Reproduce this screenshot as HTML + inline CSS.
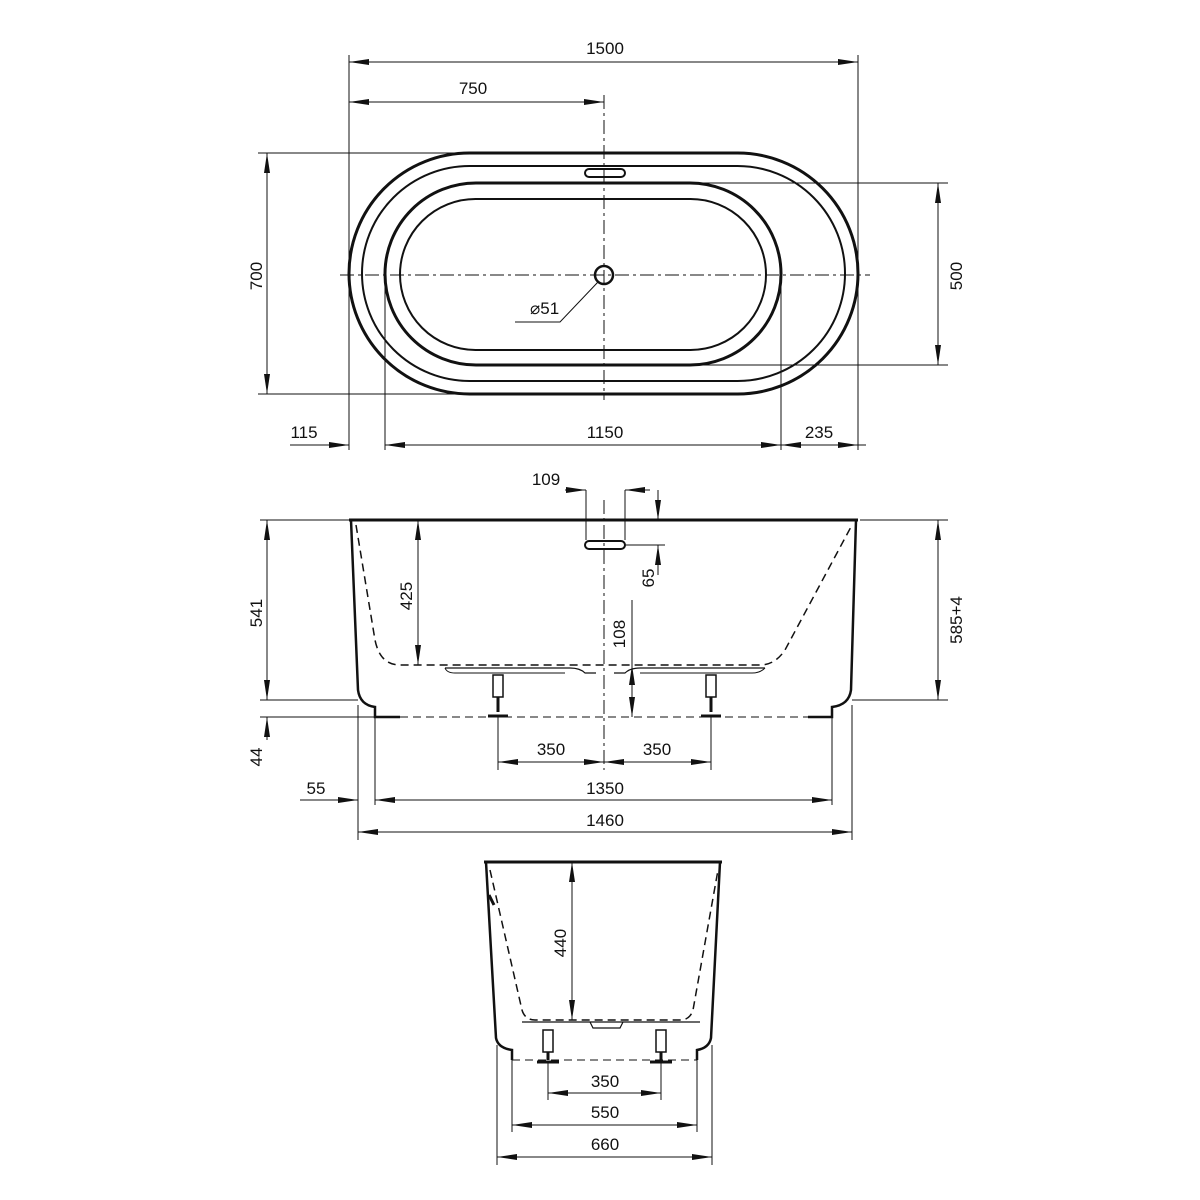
<!DOCTYPE html>
<html><head><meta charset="utf-8"><style>
html,body{margin:0;padding:0;background:#fff;}
svg{display:block;}
text{font-family:"Liberation Sans",sans-serif;font-size:17px;fill:#111;}
</style></head><body>
<svg width="1200" height="1200" viewBox="0 0 1200 1200" xmlns="http://www.w3.org/2000/svg">
<defs>
<marker id="a" viewBox="0 0 20 6" refX="20" refY="3" markerWidth="20" markerHeight="6" markerUnits="userSpaceOnUse" orient="auto-start-reverse"><path d="M0,0 L20,3 L0,6 z" fill="#111"/></marker>
</defs>
<g stroke="#111" fill="none" stroke-width="1">
<!-- TOP VIEW -->
<rect x="349" y="153" width="509" height="241" rx="120.5" stroke-width="3"/>
<rect x="362" y="166" width="483" height="215" rx="107.5" stroke-width="2"/>
<rect x="385" y="183" width="396" height="182" rx="91" stroke-width="3"/>
<rect x="400" y="199" width="366" height="151" rx="75.5" stroke-width="2"/>
<circle cx="604" cy="275" r="9" stroke-width="2.5"/>
<rect x="585" y="169" width="40" height="8" rx="4" stroke-width="2"/>
<line x1="340" y1="275" x2="870" y2="275" stroke-dasharray="14,4,3,4"/>
<line x1="604" y1="95" x2="604" y2="400" stroke-dasharray="14,4,3,4"/>
<path d="M598 282 L560 322 L515 322"/>
<!-- ext lines -->
<line x1="349" y1="55" x2="349" y2="450"/>
<line x1="858" y1="55" x2="858" y2="450"/>
<line x1="385" y1="275" x2="385" y2="450"/>
<line x1="781" y1="275" x2="781" y2="450"/>
<line x1="258" y1="153" x2="470" y2="153"/>
<line x1="258" y1="394" x2="470" y2="394"/>
<line x1="700" y1="183" x2="948" y2="183"/>
<line x1="700" y1="365" x2="948" y2="365"/>
<!-- dims -->
<line x1="349" y1="62" x2="858" y2="62" marker-start="url(#a)" marker-end="url(#a)"/>
<line x1="349" y1="102" x2="604" y2="102" marker-start="url(#a)" marker-end="url(#a)"/>
<line x1="267" y1="153" x2="267" y2="394" marker-start="url(#a)" marker-end="url(#a)"/>
<line x1="938" y1="183" x2="938" y2="365" marker-start="url(#a)" marker-end="url(#a)"/>
<line x1="290" y1="445" x2="349" y2="445" marker-end="url(#a)"/>
<line x1="385" y1="445" x2="781" y2="445" marker-start="url(#a)" marker-end="url(#a)"/>
<line x1="781" y1="445" x2="858" y2="445" marker-start="url(#a)" marker-end="url(#a)"/>
<line x1="858" y1="445" x2="866" y2="445"/>

<!-- SIDE VIEW -->
<path d="M349 520 L858 520" stroke-width="3"/>
<path d="M351 520 L358 690 Q360 705 375 707 L375 717 L400 717" stroke-width="2.5"/>
<path d="M856 520 L851 690 Q849 705 832 707 L832 717 L808 717" stroke-width="2.5"/>
<line x1="400" y1="717" x2="808" y2="717" stroke-dasharray="8,5"/>
<path d="M356 525 L375 640 Q380 665 400 665 L760 665 Q775 665 785 650 L852 525" stroke-dasharray="8,5" stroke-width="1.5"/>
<path d="M445 668 L570 668 Q580 668 585 673 L596 673 M614 673 L625 673 Q630 668 640 668 L765 668" stroke-width="1.2"/>
<path d="M445 668 Q447 673 455 673 L565 673 M640 673 L752 673 Q760 673 765 668" stroke-width="1"/>
<rect x="493" y="675" width="10" height="22" stroke-width="1.5"/>
<path d="M488 716 L508 716 M498 697 L498 712" stroke-width="3"/>
<rect x="706" y="675" width="10" height="22" stroke-width="1.5"/>
<path d="M701 716 L721 716 M711 697 L711 712" stroke-width="3"/>
<rect x="585" y="541" width="40" height="8" rx="4" stroke-width="2"/>
<line x1="604" y1="500" x2="604" y2="770" stroke-dasharray="14,4,3,4"/>
<line x1="586" y1="490" x2="586" y2="540"/>
<line x1="625" y1="490" x2="625" y2="540"/>
<line x1="565" y1="490" x2="586" y2="490" marker-end="url(#a)"/>
<line x1="650" y1="490" x2="625" y2="490" marker-end="url(#a)"/>
<line x1="625" y1="545" x2="665" y2="545"/>
<line x1="658" y1="490" x2="658" y2="520" marker-end="url(#a)"/>
<line x1="658" y1="575" x2="658" y2="545" marker-end="url(#a)"/>
<line x1="860" y1="520" x2="948" y2="520"/>
<line x1="260" y1="520" x2="349" y2="520"/>
<line x1="260" y1="700" x2="358" y2="700"/>
<line x1="852" y1="700" x2="948" y2="700"/>
<line x1="267" y1="520" x2="267" y2="700" marker-start="url(#a)" marker-end="url(#a)"/>
<line x1="267" y1="740" x2="267" y2="717" marker-end="url(#a)"/>
<line x1="260" y1="717" x2="375" y2="717"/>
<line x1="938" y1="520" x2="938" y2="700" marker-start="url(#a)" marker-end="url(#a)"/>
<line x1="418" y1="520" x2="418" y2="665" marker-start="url(#a)" marker-end="url(#a)"/>
<line x1="632" y1="665" x2="632" y2="717" marker-start="url(#a)" marker-end="url(#a)"/>
<line x1="632" y1="600" x2="632" y2="665"/>
<line x1="358" y1="705" x2="358" y2="840"/>
<line x1="852" y1="705" x2="852" y2="840"/>
<line x1="375" y1="717" x2="375" y2="805"/>
<line x1="832" y1="717" x2="832" y2="805"/>
<line x1="498" y1="717" x2="498" y2="770"/>
<line x1="711" y1="717" x2="711" y2="770"/>
<line x1="498" y1="762" x2="604" y2="762" marker-start="url(#a)" marker-end="url(#a)"/>
<line x1="604" y1="762" x2="711" y2="762" marker-start="url(#a)" marker-end="url(#a)"/>
<line x1="300" y1="800" x2="358" y2="800" marker-end="url(#a)"/>
<line x1="375" y1="800" x2="832" y2="800" marker-start="url(#a)" marker-end="url(#a)"/>
<line x1="358" y1="832" x2="852" y2="832" marker-start="url(#a)" marker-end="url(#a)"/>

<!-- END VIEW -->
<path d="M484 862 L722 862" stroke-width="3"/>
<path d="M486 862 L496 1038 Q498 1048 512 1050 L512 1060" stroke-width="2.5"/>
<path d="M720 862 L711 1038 Q709 1048 697 1050 L697 1060" stroke-width="2.5"/>
<line x1="512" y1="1060" x2="697" y2="1060" stroke-dasharray="8,5"/>
<path d="M490 870 L522 1010 Q525 1020 535 1020 L680 1020 Q690 1020 693 1010 L718 870" stroke-dasharray="8,5" stroke-width="1.5"/>
<path d="M522 1022 L700 1022 M590 1022 L593 1028 L620 1028 L623 1022" stroke-width="1.2"/>
<rect x="543" y="1030" width="10" height="22" stroke-width="1.5"/>
<path d="M537 1062 L559 1062 M548 1052 L548 1060" stroke-width="3"/>
<rect x="656" y="1030" width="10" height="22" stroke-width="1.5"/>
<path d="M650 1062 L672 1062 M661 1052 L661 1060" stroke-width="3"/>
<path d="M489 895 L494 905" stroke-width="3"/>
<line x1="572" y1="862" x2="572" y2="1020" marker-start="url(#a)" marker-end="url(#a)"/>
<line x1="548" y1="1062" x2="548" y2="1100"/>
<line x1="661" y1="1062" x2="661" y2="1100"/>
<line x1="512" y1="1060" x2="512" y2="1132"/>
<line x1="697" y1="1060" x2="697" y2="1132"/>
<line x1="497" y1="1045" x2="497" y2="1165"/>
<line x1="712" y1="1045" x2="712" y2="1165"/>
<line x1="548" y1="1093" x2="661" y2="1093" marker-start="url(#a)" marker-end="url(#a)"/>
<line x1="512" y1="1125" x2="697" y2="1125" marker-start="url(#a)" marker-end="url(#a)"/>
<line x1="497" y1="1157" x2="712" y2="1157" marker-start="url(#a)" marker-end="url(#a)"/>
</g>
<g>
<text x="605" y="54" text-anchor="middle">1500</text>
<text x="473" y="94" text-anchor="middle">750</text>
<text x="530" y="314">⌀51</text>
<text transform="translate(262,276) rotate(-90)" text-anchor="middle">700</text>
<text transform="translate(962,276) rotate(-90)" text-anchor="middle">500</text>
<text x="304" y="438" text-anchor="middle">115</text>
<text x="605" y="438" text-anchor="middle">1150</text>
<text x="819" y="438" text-anchor="middle">235</text>
<text x="546" y="485" text-anchor="middle">109</text>
<text transform="translate(654,578) rotate(-90)" text-anchor="middle">65</text>
<text transform="translate(412,596) rotate(-90)" text-anchor="middle">425</text>
<text transform="translate(625,634) rotate(-90)" text-anchor="middle">108</text>
<text transform="translate(262,613) rotate(-90)" text-anchor="middle">541</text>
<text transform="translate(262,757) rotate(-90)" text-anchor="middle">44</text>
<text transform="translate(962,620) rotate(-90)" text-anchor="middle">585+4</text>
<text x="551" y="755" text-anchor="middle">350</text>
<text x="657" y="755" text-anchor="middle">350</text>
<text x="316" y="794" text-anchor="middle">55</text>
<text x="605" y="794" text-anchor="middle">1350</text>
<text x="605" y="826" text-anchor="middle">1460</text>
<text transform="translate(566,943) rotate(-90)" text-anchor="middle">440</text>
<text x="605" y="1087" text-anchor="middle">350</text>
<text x="605" y="1118" text-anchor="middle">550</text>
<text x="605" y="1150" text-anchor="middle">660</text>
</g>
</svg>
</body></html>
